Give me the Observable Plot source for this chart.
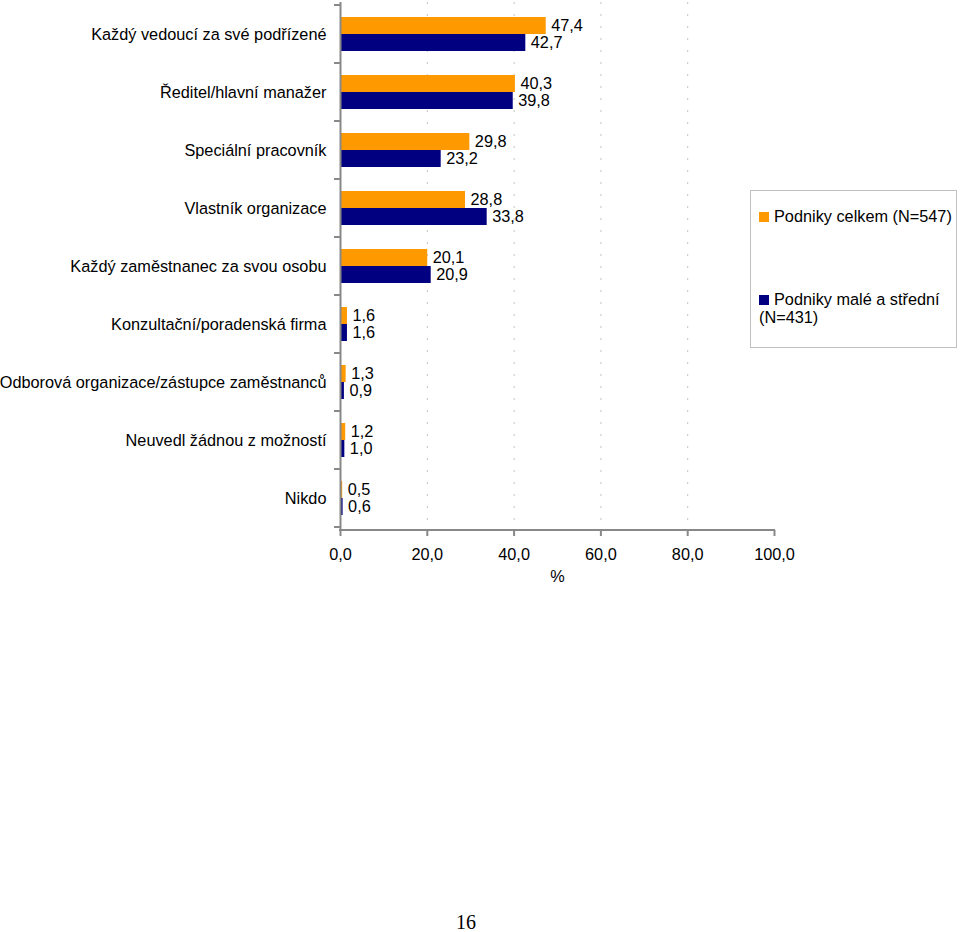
<!DOCTYPE html>
<html>
<head>
<meta charset="utf-8">
<script src="https://cdn.jsdelivr.net/npm/d3@7"></script>
<script src="https://cdn.jsdelivr.net/npm/@observablehq/plot@0.6"></script>
<style>
  html, body { margin: 0; padding: 0; background: #fff; }
  #wrap { position: relative; width: 960px; height: 932px; font-family: "Liberation Sans", Arial, sans-serif; color: #000; }
  #chart { position: absolute; left: 0; top: 0; }
  #legend { position: absolute; left: 750px; top: 190px; width: 205px; height: 156px; border: 1px solid #c0c0c0; background: #fff; font-size: 16.3px; }
  .item { position: absolute; left: 8px; line-height: 18px; white-space: nowrap; }
  .sw { display: inline-block; width: 10px; height: 10px; margin-right: 5px; vertical-align: 0px; }
  #page { position: absolute; left: 446px; width: 40px; top: 911px; text-align: center; font-family: "Liberation Serif", "DejaVu Serif", serif; font-size: 20px; }
</style>
</head>
<body>
<div id="wrap">
  <div id="chart"></div>
  <div id="legend"></div>
  <div id="page">16</div>
</div>
<script>
const categories = [
  "Každý vedoucí za své podřízené",
  "Ředitel/hlavní manažer",
  "Speciální pracovník",
  "Vlastník organizace",
  "Každý zaměstnanec za svou osobu",
  "Konzultační/poradenská firma",
  "Odborová organizace/zástupce zaměstnanců",
  "Neuvedl žádnou z možností",
  "Nikdo"
];
const celkem = [47.4, 40.3, 29.8, 28.8, 20.1, 1.6, 1.3, 1.2, 0.5];
const male   = [42.7, 39.8, 23.2, 33.8, 20.9, 1.6, 0.9, 1.0, 0.6];
const seriesNames = ["Podniky celkem (N=547)", "Podniky malé a střední (N=431)"];
const seriesColors = ["#FF9900", "#000080"];
const xTicks = [0, 20, 40, 60, 80, 100];
const axisLabel = "%";

const rows = categories.map((c, i) => ({category: c, celkem: celkem[i], male: male[i]}));
const fmt = d => d.toFixed(1).replace(".", ",");

const W = 960, H = 600, mL = 340, mR = 186, mT = 2, mB = 70;
const padIn = 0.42, padOut = 0.21;
const step = (H - mT - mB) / categories.length;
const half = step * (1 - padIn) / 2;
const FS = 16.3;

const plot = Plot.plot({
  width: W, height: H,
  marginLeft: mL, marginRight: mR, marginTop: mT, marginBottom: mB,
  style: {fontFamily: '"Liberation Sans", Arial, sans-serif', fontSize: FS + "px", color: "#000", background: "transparent"},
  x: {domain: [0, 100]},
  y: {domain: categories, paddingInner: padIn, paddingOuter: padOut},
  marks: [
    Plot.gridX(xTicks.slice(1, -1), {stroke: "#c4c4c4", strokeOpacity: 1, strokeDasharray: "2,10"}),
    Plot.barX(rows, {x: "celkem", y: "category", fill: seriesColors[0], insetBottom: half}),
    Plot.barX(rows, {x: "male", y: "category", fill: seriesColors[1], insetTop: half}),
    Plot.text(rows, {x: "celkem", y: "category", text: d => fmt(d.celkem), dx: 5, dy: -half / 2, textAnchor: "start", fill: "#000", fontSize: FS}),
    Plot.text(rows, {x: "male", y: "category", text: d => fmt(d.male), dx: 5, dy: half / 2, textAnchor: "start", fill: "#000", fontSize: FS}),
    Plot.ruleX([0], {stroke: "#888", strokeWidth: 2}),
    Plot.axisY({tickSize: 0, tickPadding: 14, label: null, fontSize: FS, fill: "#000"}),
    Plot.axisX(xTicks, {tickFormat: fmt, tickSize: 6, tickPadding: 12, label: null, stroke: "#888", strokeWidth: 2, fill: "#000", fontSize: FS}),
    Plot.text([axisLabel], {frameAnchor: "bottom", dy: 51, fill: "#000", fontSize: FS})
  ]
});
document.getElementById("chart").appendChild(plot);

// axis line along the bottom and category boundary ticks, from the plot's own scales
const sx = plot.scale("x"), sy = plot.scale("y");
const svg = d3.select(plot);
const yBottom = H - mB;
svg.append("line")
  .attr("x1", sx.apply(0) - 1).attr("x2", sx.apply(100) + 1)
  .attr("y1", yBottom).attr("y2", yBottom)
  .attr("stroke", "#888").attr("stroke-width", 2);
const gap = (sy.step - sy.bandwidth) / 2;
const bounds = categories.map(c => sy.apply(c) - gap);
bounds.push(sy.apply(categories[categories.length - 1]) + sy.bandwidth + gap);
svg.append("g").selectAll("line").data(bounds).join("line")
  .attr("x1", sx.apply(0) - 6).attr("x2", sx.apply(0))
  .attr("y1", d => d).attr("y2", d => d)
  .attr("stroke", "#888").attr("stroke-width", 2);

// legend
const legend = d3.select("#legend");
const tops = [16, 99];
seriesNames.forEach((name, i) => {
  const item = legend.append("div").attr("class", "item").style("top", tops[i] + "px");
  if (i === 0) {
    item.html(`<span class="sw" style="background:${seriesColors[i]}"></span>${name}`);
  } else {
    const parts = name.split(" (");
    item.html(`<span class="sw" style="background:${seriesColors[i]}"></span>${parts[0]}<br>(${parts[1]}`);
  }
});
</script>
</body>
</html>
